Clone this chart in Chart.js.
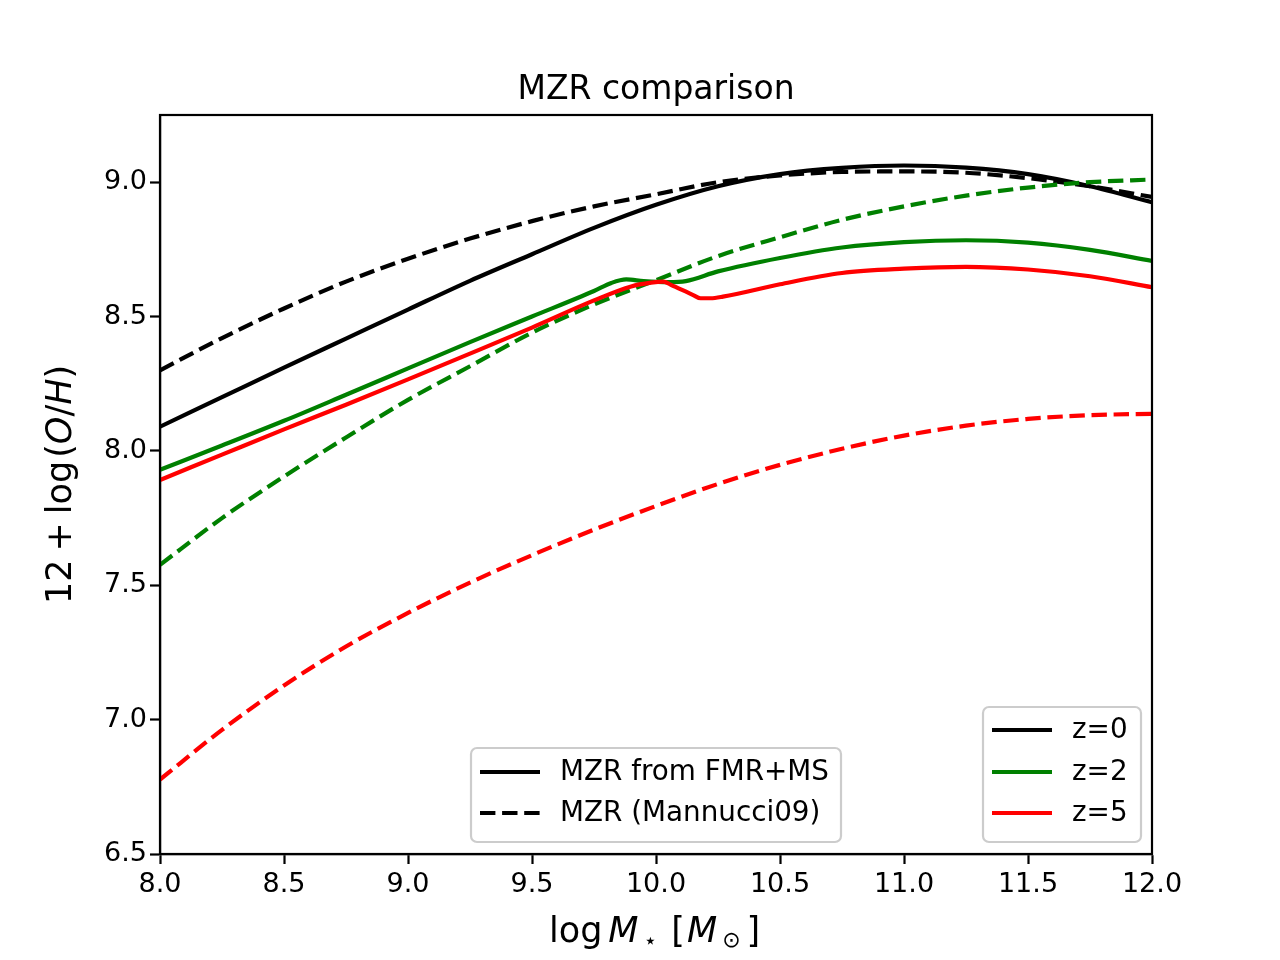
<!DOCTYPE html>
<html>
<head>
<meta charset="utf-8">
<title>MZR comparison</title>
<style>
  html, body { margin: 0; padding: 0; background: #fff; }
  #wrap { width: 1280px; height: 960px; }
</style>
<script src="https://cdn.jsdelivr.net/npm/chart.js@4.4.1/dist/chart.umd.min.js"></script>
</head>
<body>
<div id="wrap"><canvas id="myChart" width="1280" height="960"></canvas></div>
<script>
// stellar mass grid (log M*) used by the smooth curves
var massGrid = [8.0, 8.25, 8.5, 8.75, 9.0, 9.25, 9.5, 9.75, 10.0, 10.25, 10.5, 10.75, 11.0, 11.25, 11.5, 11.75, 12.0];

// MZR from FMR+MS, z=0
var fmrZ0 = [8.09, 8.20, 8.31, 8.418, 8.526, 8.633, 8.732, 8.83, 8.916, 8.985, 9.03, 9.053, 9.062, 9.054, 9.03, 8.985, 8.925];

// MZR (Mannucci09)
var mannZ0 = [8.30, 8.42, 8.53, 8.63, 8.715, 8.79, 8.855, 8.91, 8.955, 9.00, 9.025, 9.038, 9.04, 9.035, 9.015, 8.985, 8.945];
var mannZ2 = [7.576, 7.75, 7.905, 8.05, 8.19, 8.315, 8.44, 8.545, 8.635, 8.725, 8.795, 8.86, 8.91, 8.95, 8.98, 9.0, 9.01];
var mannZ5 = [6.777, 6.962, 7.127, 7.272, 7.397, 7.51, 7.612, 7.707, 7.795, 7.877, 7.948, 8.008, 8.057, 8.094, 8.119, 8.133, 8.138];

// FMR+MS for z=2 and z=5 have a kink near 10, so their own (denser) mass points
var fmrZ2Mass = [8.0, 8.25, 8.5, 8.75, 9.0, 9.25, 9.5, 9.75, 9.82, 9.88, 9.95, 10.05, 10.12, 10.25, 10.5, 10.75, 11.0, 11.25, 11.5, 11.75, 12.0];
var fmrZ2 = [7.93, 8.02, 8.112, 8.209, 8.307, 8.405, 8.50, 8.595, 8.625, 8.638, 8.632, 8.628, 8.632, 8.668, 8.718, 8.757, 8.777, 8.784, 8.775, 8.748, 8.707];
var fmrZ5Mass = [8.0, 8.25, 8.5, 8.75, 9.0, 9.25, 9.5, 9.75, 9.9, 9.98, 10.03, 10.06, 10.15, 10.18, 10.22, 10.27, 10.5, 10.75, 11.0, 11.25, 11.5, 11.75, 12.0];
var fmrZ5 = [7.892, 7.986, 8.08, 8.172, 8.266, 8.362, 8.459, 8.56, 8.612, 8.626, 8.63, 8.618, 8.58, 8.568, 8.568, 8.574, 8.62, 8.662, 8.678, 8.685, 8.675, 8.65, 8.609];

var xTicks = [8.0, 8.5, 9.0, 9.5, 10.0, 10.5, 11.0, 11.5, 12.0];
var yTicks = [6.5, 7.0, 7.5, 8.0, 8.5, 9.0];

var zLabels = ['z=0', 'z=2', 'z=5'];
var styleLabels = ['MZR from FMR+MS', 'MZR (Mannucci09)'];

var FONT = '"DejaVu Sans", "Liberation Sans", sans-serif';
var dash = [15.4, 6.7];

function pts(xs, ys) {
  return xs.map(function (x, i) { return { x: x, y: ys[i] }; });
}

function line(xs, ys, color, dashed) {
  return {
    data: pts(xs, ys),
    borderColor: color,
    borderWidth: 4.2,
    borderDash: dashed ? dash : [],
    borderJoinStyle: 'round',
    pointRadius: 0,
    fill: false,
    cubicInterpolationMode: 'monotone'
  };
}

// draw a run of text pieces (mathtext-ish), left to right from x
function drawPieces(ctx, pieces, x, y) {
  pieces.forEach(function (p) {
    ctx.font = (p.it ? 'italic ' : '') + p.size + 'px ' + FONT;
    ctx.fillText(p.t, x, y + (p.dy || 0));
    x += ctx.measureText(p.t).width + (p.gap || 0);
  });
}

function drawLegend(ctx, box, rows) {
  ctx.save();
  ctx.beginPath();
  ctx.roundRect(box.x, box.y, box.w, box.h, 6);
  ctx.fillStyle = 'rgba(255,255,255,0.8)';
  ctx.fill();
  ctx.lineWidth = 2.2;
  ctx.strokeStyle = '#cccccc';
  ctx.stroke();
  ctx.font = '27.8px ' + FONT;
  ctx.textBaseline = 'middle';
  rows.forEach(function (r) {
    ctx.beginPath();
    ctx.setLineDash(r.dashed ? dash : []);
    ctx.strokeStyle = r.color;
    ctx.lineWidth = 4.2;
    ctx.moveTo(box.x + 9, r.y);
    ctx.lineTo(box.x + 69, r.y);
    ctx.stroke();
    ctx.setLineDash([]);
    ctx.fillStyle = '#000';
    ctx.fillText(r.label, box.x + 89, r.y + 1);
  });
  ctx.restore();
}

var decorations = {
  id: 'decorations',
  afterDatasetsDraw: function (chart) {
    var ctx = chart.ctx, a = chart.chartArea;
    ctx.save();
    ctx.strokeStyle = '#000';
    ctx.lineWidth = 2.2;
    ctx.strokeRect(a.left, a.top, a.right - a.left, a.bottom - a.top);
    ctx.restore();
  },
  afterDraw: function (chart) {
    var ctx = chart.ctx;
    ctx.save();
    ctx.fillStyle = '#000';
    ctx.textBaseline = 'alphabetic';

    // title
    ctx.font = '33px ' + FONT;
    ctx.textAlign = 'center';
    ctx.fillText('MZR comparison', 656, 99);
    ctx.textAlign = 'left';

    // x label: log M_star [M_sun]
    drawPieces(ctx, [
      { t: 'log', size: 35, gap: 6 },
      { t: 'M', size: 35, it: true, gap: 5 },
      { t: '\u22C6', size: 22, dy: 6, gap: 14 },
      { t: '[', size: 35, gap: 2 },
      { t: 'M', size: 35, it: true, gap: 5 },
      { t: '\u2299', size: 22, dy: 5, gap: 6 },
      { t: ']', size: 35 }
    ], 549, 942);

    // y label: 12 + log(O/H)
    ctx.save();
    ctx.translate(71, 604);
    ctx.rotate(-Math.PI / 2);
    drawPieces(ctx, [
      { t: '12', size: 35, gap: 8 },
      { t: '+', size: 35, gap: 8 },
      { t: 'log', size: 35, gap: 3 },
      { t: '(', size: 35 },
      { t: 'O', size: 35, it: true },
      { t: '/', size: 35 },
      { t: 'H', size: 35, it: true },
      { t: ')', size: 35 }
    ], 0, 0);
    ctx.restore();

    // line style legend (bottom centre)
    drawLegend(ctx, { x: 471, y: 748, w: 370, h: 94 }, [
      { label: styleLabels[0], color: '#000', dashed: false, y: 772 },
      { label: styleLabels[1], color: '#000', dashed: true, y: 813 }
    ]);

    // redshift legend (lower right)
    drawLegend(ctx, { x: 983, y: 707, w: 158, h: 135 }, [
      { label: zLabels[0], color: '#000000', dashed: false, y: 730 },
      { label: zLabels[1], color: '#008000', dashed: false, y: 772 },
      { label: zLabels[2], color: '#ff0000', dashed: false, y: 813 }
    ]);
    ctx.restore();
  }
};

var ctx = document.getElementById('myChart');

var myChart = new Chart(ctx, {
  type: 'line',
  data: {
    datasets: [
      line(fmrZ5Mass, fmrZ5, '#ff0000', false),
      line(massGrid, mannZ5, '#ff0000', true),
      line(fmrZ2Mass, fmrZ2, '#008000', false),
      line(massGrid, mannZ2, '#008000', true),
      line(massGrid, fmrZ0, '#000000', false),
      line(massGrid, mannZ0, '#000000', true)
    ]
  },
  options: {
    responsive: false,
    animation: false,
    devicePixelRatio: 1,
    layout: { padding: { top: 115, right: 128, left: 0, bottom: 0 } },
    plugins: {
      legend: { display: false },
      tooltip: { enabled: false },
      title: { display: false }
    },
    scales: {
      x: {
        type: 'linear',
        min: 8,
        max: 12,
        afterBuildTicks: function (s) { s.ticks = xTicks.map(function (v) { return { value: v }; }); },
        afterFit: function (s) { s.height = 106; },
        grid: { drawOnChartArea: false, drawTicks: true, tickLength: 10, tickWidth: 2.2, tickColor: '#000' },
        border: { display: true, color: '#000', width: 2.2 },
        ticks: {
          color: '#000',
          font: { family: FONT, size: 27 },
          padding: 5,
          maxRotation: 0,
          autoSkip: false,
          callback: function (v) { return Number(v).toFixed(1); }
        }
      },
      y: {
        type: 'linear',
        min: 6.5,
        max: 9.25,
        afterBuildTicks: function (s) { s.ticks = yTicks.map(function (v) { return { value: v }; }); },
        afterFit: function (s) { s.width = 160; },
        grid: { drawOnChartArea: false, drawTicks: true, tickLength: 10, tickWidth: 2.2, tickColor: '#000' },
        border: { display: true, color: '#000', width: 2.2 },
        ticks: {
          color: '#000',
          font: { family: FONT, size: 27 },
          padding: 3,
          autoSkip: false,
          callback: function (v) { return Number(v).toFixed(1); }
        }
      }
    }
  },
  plugins: [decorations]
});
</script>
</body>
</html>
